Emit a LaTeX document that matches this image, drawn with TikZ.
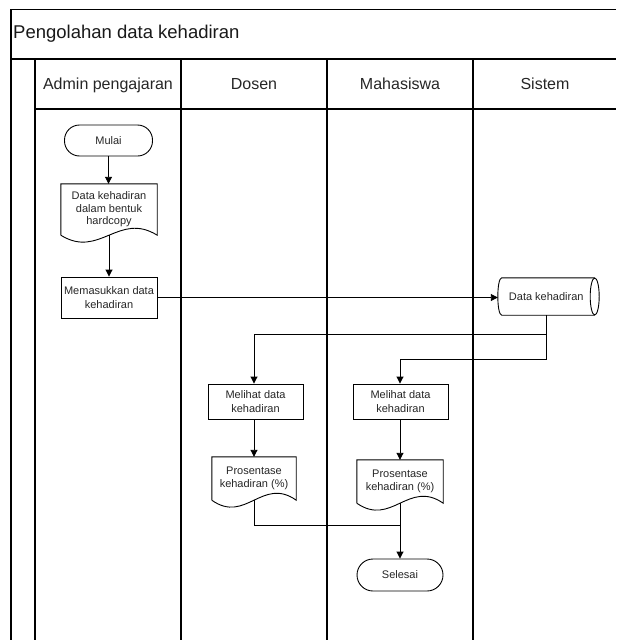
\documentclass[tikz,border=0pt]{standalone}
\usepackage{fontspec}
\setmainfont{Liberation Sans}
\usetikzlibrary{arrows.meta,calc}
\tikzset{
  frame/.style={line width=1.3pt,black},
  box/.style={draw,line width=0.9pt,rectangle,align=center,inner sep=0pt,
    font=\fontsize{11}{14}\selectfont,text=black!85},
  term/.style={draw,line width=0.9pt,rectangle,rounded corners=15pt,align=center,inner sep=0pt,
    font=\fontsize{11}{14}\selectfont,text=black!85},
  docnode/.style={rectangle,align=center,inner sep=0pt,
    font=\fontsize{11}{13.5}\selectfont,text=black!85},
  flow/.style={line width=0.9pt,-{Triangle[length=7pt,width=7pt]}},
  plain/.style={line width=0.9pt},
  header/.style={font=\fontsize{16}{18}\selectfont,text=black!85,anchor=base},
}
\newcommand{\docoutline}[1]{%
  \draw[line width=0.9pt] (#1.south west) -- (#1.north west) -- (#1.north east) -- (#1.south east)
    .. controls ($(#1.south east)!0.4!(#1.south west)+(0,-24)$) and ($(#1.south east)!0.6!(#1.south west)+(0,24)$) .. (#1.south west);}
\begin{document}
\begin{tikzpicture}[x=1pt,y=-1pt]
\useasboundingbox (0,0) rectangle (616,640);
% frame
\draw[frame] (616,9.5) -- (11,9.5) -- (11,640);
\draw[frame] (11,59) -- (616,59);
\draw[frame] (35,59) -- (35,640);
\draw[frame] (35,109) -- (616,109);
\draw[frame] (181,59) -- (181,640);
\draw[frame] (327,59) -- (327,640);
\draw[frame] (473,59) -- (473,640);
\node[anchor=base west,font=\fontsize{18.5}{20}\selectfont,text=black!90,inner sep=0pt] (title) at (13,38) {Pengolahan data kehadiran};
\node[header] (h1) at (108,89.5) {Admin pengajaran};
\node[header] (h2) at (254,89.5) {Dosen};
\node[header] (h3) at (400,89.5) {Mahasiswa};
\node[header] (h4) at (545,89.5) {Sistem};
% nodes
\node[term,minimum width=88pt,minimum height=31pt] (mulai) at (108.5,140.5) {Mulai};
\node[docnode,minimum width=96pt,minimum height=51pt,font=\fontsize{11}{12.5}\selectfont] (hard) at (109,209.5) {\raisebox{2pt}{\parbox{96pt}{\centering Data kehadiran\\dalam bentuk\\hardcopy}}};
\docoutline{hard}
\node[box,minimum width=96pt,minimum height=41pt] (masuk) at (109,297.5) {Memasukkan data\\kehadiran};
\node[rectangle,inner sep=0pt,minimum width=92.5pt,minimum height=37pt,
  font=\fontsize{11}{14}\selectfont,text=black!85] (cyl) at (548.25,296.5) {\hspace*{-4pt}Data kehadiran};
\draw[line width=0.9pt] (cyl.south west) .. controls +(-5.3,0) and +(-5.3,0) .. (cyl.north west)
  -- (cyl.north east) (cyl.south east) -- (cyl.south west);
\draw[line width=0.9pt] (cyl.east) ellipse [x radius=4.5pt,y radius=18.5pt];
\coordinate (cylin) at ($(cyl.west)+(-4,0)$);
\node[box,minimum width=95pt,minimum height=35pt] (mld) at (255.5,401.5) {Melihat data\\kehadiran};
\node[box,minimum width=95pt,minimum height=35pt] (mlm) at (400.5,401.5) {Melihat data\\kehadiran};
\node[docnode,minimum width=84pt,minimum height=43pt] (pd) at (254,478.5) {\raisebox{2pt}{\parbox{84pt}{\centering Prosentase\\kehadiran (\%)}}};
\docoutline{pd}
\node[docnode,minimum width=86pt,minimum height=43pt] (pm) at (400,481.5) {\raisebox{2pt}{\parbox{86pt}{\centering Prosentase\\kehadiran (\%)}}};
\docoutline{pm}
\node[term,minimum width=86pt,minimum height=32pt,rounded corners=16pt] (sel) at (400,575) {Selesai};
% connectors
\coordinate (b1) at (546.5,334);
\coordinate (b2) at (546.5,359);
\coordinate (m1) at (400,525);
\draw[flow] (mulai.south) -- (mulai.south |- hard.north);
\draw[flow] (hard.south) -- (hard.south |- masuk.north);
\draw[flow] (masuk.east) -- (masuk.east -| cylin);
\draw[plain] (cyl.south -| b2) -- (b2);
\draw[flow] (b2) -| (mlm.north -| pm.north);
\draw[flow] (b1) -| (mld.north -| pd.north);
\draw[flow] (mld.south -| pd.north) -- (pd.north);
\draw[flow] (mlm.south -| pm.north) -- (pm.north);
\draw[plain] (pd.south) |- (m1);
\draw[flow] (pm.south) -- (sel.north);
\end{tikzpicture}
\end{document}
